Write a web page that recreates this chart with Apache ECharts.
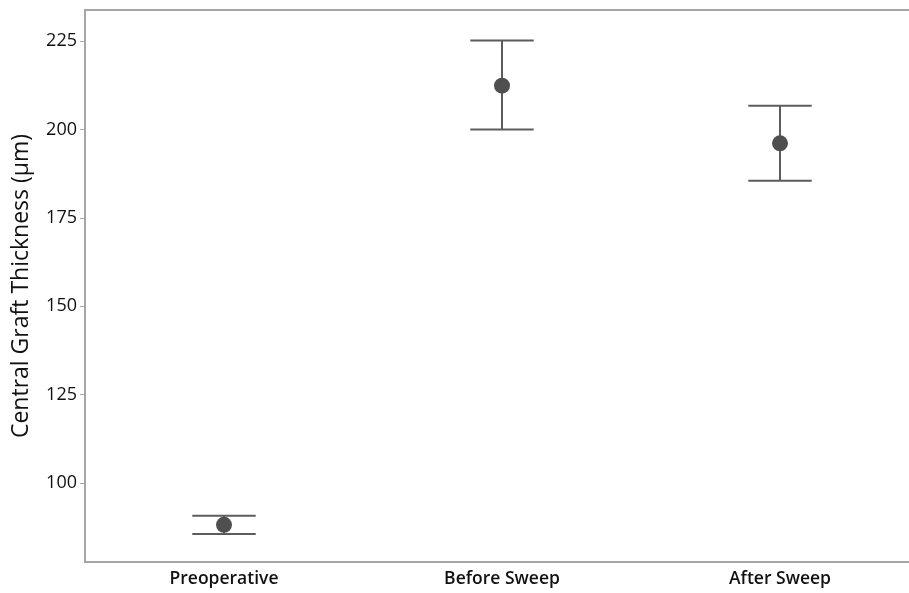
<!DOCTYPE html>
<html>
<head>
<meta charset="utf-8">
<script src="https://cdn.jsdelivr.net/npm/echarts@6/dist/echarts.min.js"></script>
<style>html,body{margin:0;padding:0;background:#fff}#c{width:909px;height:593px}</style>
</head>
<body>
<div id="c"></div>
<script>
var categories = ['Preoperative', 'Before Sweep', 'After Sweep'];
var means = [88.2, 212.4, 196.1];
var lower = [85.6, 200.0, 185.5];
var upper = [90.8, 225.2, 206.7];
var yTicks = [100, 125, 150, 175, 200, 225];

var chart = echarts.init(document.getElementById('c'));
var font = '"Open Sans", "Noto Sans", sans-serif';
var errData = categories.map(function (c, i) { return [i, lower[i], upper[i]]; });
chart.setOption({
  animation: false,
  grid: { left: 85, right: -10, top: 10, bottom: 31, show: true, borderColor: '#a6a6a6', borderWidth: 2,
          containLabel: false, outerBoundsMode: 'none' },
  xAxis: {
    type: 'category',
    data: categories,
    boundaryGap: true,
    axisLine: { lineStyle: { color: '#a6a6a6', width: 2 } },
    axisTick: { alignWithLabel: true, length: 5, lineStyle: { color: '#a6a6a6' } },
    axisLabel: { color: '#111', fontSize: 17.5, fontWeight: 600, fontFamily: font, margin: 8 }
  },
  yAxis: {
    type: 'value',
    min: 77.7,
    max: 233.8,
    name: 'Central Graft Thickness (μm)',
    nameLocation: 'middle',
    nameGap: 52,
    nameTextStyle: { color: '#111', fontSize: 23, fontFamily: font },
    splitLine: { show: false },
    axisLine: { show: true, lineStyle: { color: '#a6a6a6', width: 2 } },
    axisTick: { show: true, length: 5, customValues: yTicks, lineStyle: { color: '#a6a6a6' } },
    axisLabel: { color: '#111', fontSize: 18, fontFamily: font, margin: 8, customValues: yTicks }
  },
  series: [
    {
      type: 'custom',
      data: errData,
      encode: { x: 0, y: [1, 2] },
      renderItem: function (params, api) {
        var x = api.value(0);
        var lo = api.coord([x, api.value(1)]);
        var hi = api.coord([x, api.value(2)]);
        var hw = api.size([1, 0])[0] * 0.114;
        var st = { stroke: '#5c5c5c', lineWidth: 2 };
        return {
          type: 'group',
          children: [
            { type: 'line', shape: { x1: lo[0], y1: lo[1], x2: hi[0], y2: hi[1] }, style: st },
            { type: 'line', shape: { x1: lo[0] - hw, y1: lo[1], x2: lo[0] + hw, y2: lo[1] }, style: st },
            { type: 'line', shape: { x1: hi[0] - hw, y1: hi[1], x2: hi[0] + hw, y2: hi[1] }, style: st }
          ]
        };
      }
    },
    {
      type: 'scatter',
      data: means,
      symbolSize: 16,
      itemStyle: { color: '#4f4f4f', opacity: 1 },
      z: 5
    }
  ]
});
</script>
</body>
</html>
